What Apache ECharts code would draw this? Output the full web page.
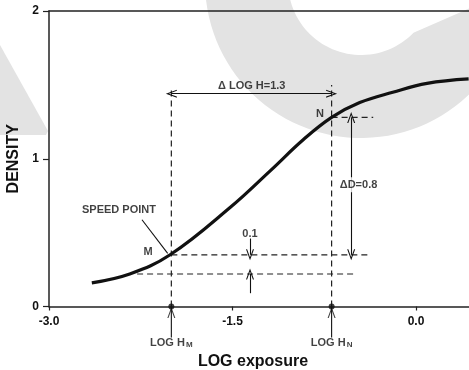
<!DOCTYPE html>
<html><head><meta charset="utf-8">
<script src="https://cdn.jsdelivr.net/npm/echarts@6/dist/echarts.min.js"></script>
<style>html,body{margin:0;padding:0;background:#fff}#c{width:469px;height:370px}</style>
</head><body><div id="c"></div>
<script>
// ---- data ----
const xTicks = [-3.0, -1.5, 0.0];
const yTicks = [0, 1, 2];
const curveX = [-2.65, -2.34, -2.01, -1.52, -1.19, -0.92, -0.69, -0.46, -0.19, 0.09, 0.43];
const curveY = [0.16, 0.22, 0.35, 0.67, 0.92, 1.13, 1.28, 1.38, 1.45, 1.51, 1.54];
const logHM = -2.0, logHN = -0.69;
const densM = 0.35, densN = 1.28, densFog = 0.22;
const dashVM = [[logHM, 0], [logHM, 1.47]];
const dashVN = [[logHN, 0], [logHN, 1.50]];
const dashHM = [[logHM, densM], [-0.39, densM]];
const dashHN = [[logHN, densN], [-0.35, densN]];
const dashFog = [[-2.28, densFog], [-0.50, densFog]];
const arrowLogH = [[logHM, 1.44], [logHN, 1.44]];
const arrowD = [[-0.53, densN], [-0.53, densM]];
const arrowTop01 = [[-1.357, 0.46], [-1.357, densM]];
const arrowBot01 = [[-1.357, 0.09], [-1.357, densFog]];
const arrowHM = [[logHM, -0.21], [logHM, 0]];
const arrowHN = [[logHN, -0.21], [logHN, 0]];
const leader = [[-2.24, 0.587], [-2.03, 0.36]];
const labels = [
  {text: 'SPEED POINT', pos: [-2.428, 0.654]},
  {text: 'M', pos: [-2.19, 0.37]},
  {text: 'N', pos: [-0.785, 1.30]},
  {text: 'Δ LOG H=1.3', pos: [-1.343, 1.495]},
  {text: 'ΔD=0.8', pos: [-0.47, 0.824], bg: true},
  {text: '0.1', pos: [-1.357, 0.49]},
  {text: 'LOG H{s|M}', pos: [logHM, -0.25]},
  {text: 'LOG H{s|N}', pos: [logHN, -0.25]}
];

// ---- styles ----
const INK = '#111';
const FONT = '"Liberation Sans", Arial, sans-serif';
const chevron = 'path://M5,0 L10,10 L8.6,10 L5,2.8 L1.4,10 L0,10 Z';

function dashed(pts) {
  return {type: 'line', data: pts, symbol: 'none', silent: true, clip: false,
    lineStyle: {type: [6, 4], width: 1.2, color: '#222'}, z: 3, animation: false};
}
function arrowLine(pts, startArrow, endArrow) {
  return [
    {coord: pts[0], symbol: startArrow ? chevron : 'none'},
    {coord: pts[1], symbol: endArrow ? chevron : 'none'}
  ];
}

// watermark ring (decoration)
const ringPts = [];
(function () {
  const cx = 361, cy = -18, rOut = 156, rIn = 73;
  for (let a = 2; a <= 275; a += 3) { const r = a * Math.PI / 180; ringPts.push([cx + rOut * Math.cos(r), cy + rOut * Math.sin(r)]); }
  for (let a = 275; a >= 44; a -= 3) { const r = a * Math.PI / 180; ringPts.push([cx + rIn * Math.cos(r), cy + rIn * Math.sin(r)]); }
})();

const chart = echarts.init(document.getElementById('c'), null, {renderer: 'canvas'});
chart.setOption({
  animation: false,
  backgroundColor: '#fff',
  textStyle: {fontFamily: FONT},
  graphic: [
    {type: 'polygon', z: -10, silent: true, shape: {points: ringPts}, style: {fill: '#e3e3e3'}},
    {type: 'polygon', z: -10, silent: true, shape: {points: [[0, 45], [48, 131], [46, 135], [0, 135]]}, style: {fill: '#e3e3e3'}}
  ],
  grid: {left: 49, right: 0, top: 11, bottom: 63.5, containLabel: false, outerBoundsMode: 'none'},
  xAxis: [{
    type: 'value', min: xTicks[0], max: 0.433, interval: 1.5, position: 'bottom',
    name: 'LOG exposure', nameLocation: 'middle', nameGap: 47,
    nameTextStyle: {fontSize: 16, fontWeight: 'bold', color: INK, fontFamily: FONT, padding: [0, 12, 0, 0]},
    axisLine: {lineStyle: {color: '#222', width: 1.5}, onZero: false},
    axisTick: {length: 4, lineStyle: {color: '#222', width: 1.2}},
    axisLabel: {formatter: v => v.toFixed(1), fontSize: 12, fontWeight: 'bold', color: INK, margin: 9, showMaxLabel: false, fontFamily: FONT},
    splitLine: {show: false}
  }, {
    type: 'value', min: xTicks[0], max: 0.433, position: 'top',
    axisLine: {lineStyle: {color: '#222', width: 1.5}, onZero: false},
    axisTick: {show: false}, axisLabel: {show: false}, splitLine: {show: false}
  }],
  yAxis: {
    type: 'value', min: yTicks[0], max: yTicks[2], interval: 1,
    name: 'DENSITY', nameLocation: 'middle', nameGap: 25, nameRotate: 90,
    nameTextStyle: {fontSize: 16, fontWeight: 'bold', color: INK, fontFamily: FONT},
    axisLine: {lineStyle: {color: '#222', width: 1.5}, onZero: false},
    axisTick: {length: 6, lineStyle: {color: '#222', width: 1.2}},
    axisLabel: {fontSize: 12, fontWeight: 'bold', color: INK, margin: 10, fontFamily: FONT},
    splitLine: {show: false}
  },
  series: [
    {type: 'line', data: curveX.map((x, i) => [x, curveY[i]]), smooth: 0.4, symbol: 'none',
      lineStyle: {color: INK, width: 3.2}, z: 5, clip: false},
    dashed(dashVM), dashed(dashVN), dashed(dashHM), dashed(dashHN), dashed(dashFog),
    {type: 'line', data: leader, symbol: 'none', lineStyle: {color: INK, width: 1.1}, z: 4, clip: false},
    {type: 'line', data: arrowHM, symbol: 'none', lineStyle: {color: INK, width: 1.1}, z: 4, clip: false},
    {type: 'line', data: arrowHN, symbol: 'none', lineStyle: {color: INK, width: 1.1}, z: 4, clip: false},
    {type: 'scatter', data: [arrowHM[1], arrowHN[1]], symbol: chevron, symbolSize: [8, 11], symbolOffset: [0, 6],
      itemStyle: {color: INK}, z: 6, clip: false, silent: true},
    {type: 'line', data: [], clip: false, z: 4,
      markLine: {silent: true, symbolSize: [8, 11], label: {show: false},
        lineStyle: {type: 'solid', color: INK, width: 1.1},
        data: [
          arrowLine(arrowLogH, true, true),
          arrowLine(arrowD, true, true),
          arrowLine(arrowTop01, false, true),
          arrowLine(arrowBot01, false, true)
        ]}},
    {type: 'scatter', data: [[logHM, 0], [logHN, 0]], symbolSize: 6, itemStyle: {color: INK}, z: 7, clip: false, silent: true},
    {type: 'scatter', symbolSize: 1, clip: false, silent: true, z: 8,
      itemStyle: {color: 'rgba(0,0,0,0)'},
      data: labels.map(l => ({value: l.pos, name: l.text,
        label: l.bg ? {backgroundColor: '#fff', padding: [2, 1]} : {}})),
      label: {show: true, position: 'inside', formatter: p => p.name, color: INK,
        fontSize: 11, fontWeight: 'bold', fontFamily: FONT,
        rich: {s: {fontSize: 8, fontWeight: 'bold', color: INK, fontFamily: FONT, verticalAlign: 'bottom', padding: [0, 0, 0, 1]}}}}
  ]
});
</script></body></html>
